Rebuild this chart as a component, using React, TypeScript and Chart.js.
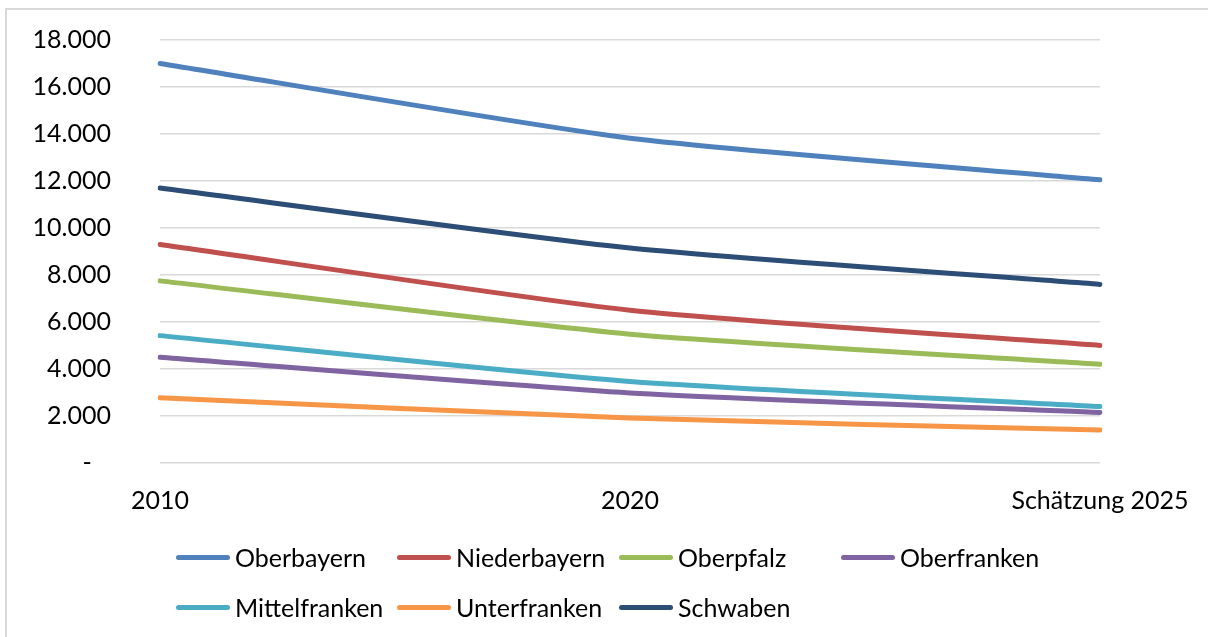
import React, { useEffect, useRef } from "react";
import { Chart, registerables } from "chart.js";

Chart.register(...registerables);

const categories = ["2010", "2020", "Schätzung 2025"];
const oberbayern = [17000, 13820, 12050];
const niederbayern = [9300, 6500, 5000];
const oberpfalz = [7750, 5480, 4200];
const oberfranken = [4500, 2980, 2150];
const mittelfranken = [5420, 3470, 2400];
const unterfranken = [2780, 1910, 1400];
const schwaben = [11700, 9150, 7600];
const yTicks = [0, 2000, 4000, 6000, 8000, 10000, 12000, 14000, 16000, 18000];

const seriesNames = ["Oberbayern", "Niederbayern", "Oberpfalz", "Oberfranken", "Mittelfranken", "Unterfranken", "Schwaben"];
const seriesValues = [oberbayern, niederbayern, oberpfalz, oberfranken, mittelfranken, unterfranken, schwaben];
const seriesColors = ["#4F81BD", "#C0504D", "#9BBB59", "#8064A2", "#4BACC6", "#F79646", "#2C4D75"];

const FONT = "Lato, 'Open Sans', sans-serif";

function fmt(v: number): string {
  if (v === 0) return "-   ";
  return v.toLocaleString("de-DE", { minimumFractionDigits: 0 }).replace(/,/g, ".");
}

export default function App() {
  const ref = useRef<HTMLCanvasElement | null>(null);

  useEffect(() => {
    const canvas = ref.current;
    if (!canvas) return;
    const chart = new Chart(canvas, {
      type: "line",
      data: {
        labels: categories,
        datasets: seriesNames.map((name, i) => ({
          label: name,
          data: seriesValues[i],
          borderColor: seriesColors[i],
          backgroundColor: seriesColors[i],
          borderWidth: 5,
          pointRadius: 0,
          pointHoverRadius: 0,
          tension: 0.2,
          borderCapStyle: "round" as const,
          borderJoinStyle: "round" as const,
          fill: false,
        })),
      },
      options: {
        animation: false,
        responsive: false,
        maintainAspectRatio: false,
        events: [],
        layout: { padding: { left: 0, right: 108, top: 40, bottom: 0 } },
        plugins: {
          legend: { display: false },
          tooltip: { enabled: false },
          title: { display: false },
        },
        scales: {
          x: {
            type: "category",
            offset: false,
            grid: { display: false, drawTicks: false },
            border: { display: false },
            ticks: {
              padding: 23,
              color: "#000",
              font: { family: FONT, size: 25 },
              maxRotation: 0,
              autoSkip: false,
            },
            afterFit: (s: any) => {
              s.height = 637 - 463;
              s.paddingLeft = 0;
              s.paddingRight = 0;
            },
          },
          y: {
            min: 0,
            max: 18000,
            afterBuildTicks: (s: any) => {
              s.ticks = yTicks.map((v) => ({ value: v }));
            },
            grid: { color: "#D9D9D9", lineWidth: 1.5, drawTicks: false },
            border: { display: false },
            ticks: {
              padding: 49,
              autoSkip: false,
              color: "#000",
              font: { family: FONT, size: 25 },
              callback: (v: any) => fmt(Number(v)),
            },
            afterFit: (s: any) => {
              s.width = 160;
              s.paddingTop = 0;
              s.paddingBottom = 0;
            },
          },
        },
      },
    });
    return () => chart.destroy();
  }, []);

  const colX = [176, 397, 619, 841];
  const rowY = [557, 607];

  return (
    <div
      style={{
        position: "fixed",
        left: 0,
        top: 0,
        width: 1208,
        height: 637,
        background: "#fff",
        overflow: "hidden",
        fontFamily: FONT,
      }}
    >
      <div
        style={{
          position: "absolute",
          left: 5,
          top: 8,
          width: 1300,
          height: 700,
          border: "2px solid #D9D9D9",
          boxSizing: "border-box",
        }}
      />
      <canvas
        ref={ref}
        width={1208}
        height={637}
        style={{ position: "absolute", left: 0, top: 0, width: 1208, height: 637 }}
      />
      {seriesNames.map((name, i) => {
        const col = i < 4 ? i : i - 4;
        const row = i < 4 ? 0 : 1;
        return (
          <div
            key={name}
            style={{
              position: "absolute",
              left: colX[col],
              top: rowY[row] - 18,
              height: 36,
              display: "flex",
              alignItems: "center",
              whiteSpace: "nowrap",
            }}
          >
            <span
              style={{
                display: "inline-block",
                width: 54,
                height: 5,
                borderRadius: 3,
                background: seriesColors[i],
                marginRight: 5,
              }}
            />
            <span style={{ fontSize: 25, color: "#000", lineHeight: "36px" }}>{name}</span>
          </div>
        );
      })}
    </div>
  );
}
